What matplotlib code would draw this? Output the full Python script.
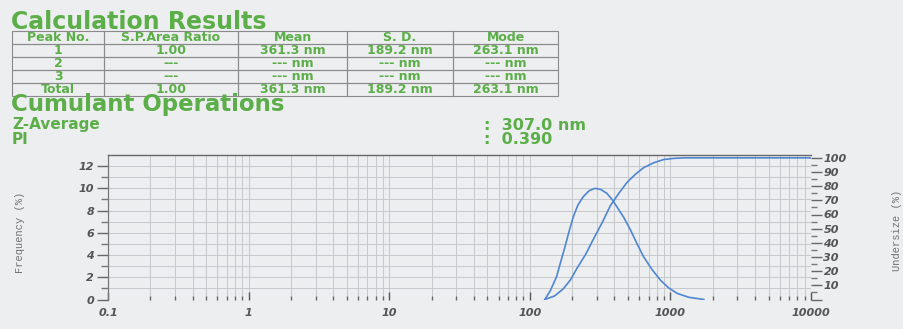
import numpy as np
import matplotlib
matplotlib.use("Agg")
import matplotlib.pyplot as plt
from matplotlib.ticker import FixedLocator, NullFormatter

# datos de la tabla de resultados
col_labels = ["Peak No.", "S.P.Area Ratio", "Mean", "S. D.", "Mode"]
filas = [["1", "1.00", "361.3 nm", "189.2 nm", "263.1 nm"],
         ["2", "---", "--- nm", "--- nm", "--- nm"],
         ["3", "---", "--- nm", "--- nm", "--- nm"],
         ["Total", "1.00", "361.3 nm", "189.2 nm", "263.1 nm"]]

z_average = "307.0 nm"
pi_valor = "0.390"

# curva de frecuencia (tamaño nm, %)
freq_x = [128, 140, 155, 166, 178, 190, 204, 220, 240, 265, 291, 320, 353, 385,
          416, 465, 518, 580, 644, 740, 848, 970, 1117, 1350, 1730]
freq_y = [0, 0.8, 2.05, 3.4, 4.75, 6.1, 7.45, 8.5, 9.25, 9.8, 10.0, 9.9, 9.55, 9.0,
          8.35, 7.4, 6.3, 5.0, 3.85, 2.7, 1.75, 1.05, 0.55, 0.2, 0]

# curva acumulada (undersize %)
cum_x = [128, 150, 173, 195, 215, 250, 283, 330, 373, 430, 490, 565, 644, 760,
         896, 1050, 1245, 10000]
cum_y = [0, 2.5, 7.5, 14, 21.5, 32, 42.5, 55, 66, 75, 82.5, 88.5, 93, 96.5,
         98.8, 99.6, 100, 100]

x_ticks = [0.1, 1, 10, 100, 1000, 10000]
x_labels = ["0.1", "1", "10", "100", "1000", "10000"]

W, H = 904, 329
fondo = "#ECEEF0"
verde = "#5CAE48"
gris = "#555555"
azul = "#4F86D2"


def fx(px):
    return px / W


def fy(py):
    return 1 - py / H


fig = plt.figure(figsize=(W / 100, H / 100), dpi=100, facecolor=fondo)

# titulos
fig.text(fx(11), fy(22), "Calculation Results", color=verde, fontsize=17,
         fontweight="bold", va="center", ha="left")
fig.text(fx(11), fy(105), "Cumulant Operations", color=verde, fontsize=16.5,
         fontweight="bold", va="center", ha="left")
fig.text(fx(12), fy(125), "Z-Average", color=verde, fontsize=11,
         fontweight="bold", va="center", ha="left")
fig.text(fx(12), fy(140), "PI", color=verde, fontsize=11,
         fontweight="bold", va="center", ha="left")
fig.text(fx(484), fy(125), ":  " + z_average, color=verde, fontsize=11.5,
         fontweight="bold", va="center", ha="left")
fig.text(fx(484), fy(140), ":  " + pi_valor, color=verde, fontsize=11.5,
         fontweight="bold", va="center", ha="left")

# tabla
axt = fig.add_axes([fx(12), fy(96), 546 / W, 65 / H])
axt.axis("off")
anchos = np.array([92, 134, 109, 106, 105]) / 546.0
tabla = axt.table(cellText=filas, colLabels=col_labels, colWidths=anchos,
                  cellLoc="center", bbox=[0, 0, 1, 1])
tabla.auto_set_font_size(False)
for (r, c), celda in tabla.get_celld().items():
    celda.set_facecolor("none")
    celda.set_edgecolor("#8A8A8A")
    celda.set_linewidth(0.8)
    celda.get_text().set_color(verde)
    celda.get_text().set_fontsize(9)
    celda.get_text().set_fontweight("bold")

# grafica
ax = fig.add_axes([fx(108), fy(299.5), 703 / W, 144.5 / H])
ax.set_facecolor("none")
ax.set_xscale("log")
ax.set_xlim(0.1, 10000)
ax.set_ylim(0, 13)

menores = [m * 10.0 ** d for d in range(-1, 4) for m in range(2, 10)]
ax.xaxis.set_major_locator(FixedLocator(x_ticks))
ax.xaxis.set_minor_locator(FixedLocator(menores))
ax.set_xticklabels(x_labels)
ax.xaxis.set_minor_formatter(NullFormatter())

ax.yaxis.set_major_locator(FixedLocator(range(0, 13, 2)))
ax.yaxis.set_minor_locator(FixedLocator(range(1, 13, 2)))

for v in x_ticks + menores:
    ax.axvline(v, color="#C6C8CB", lw=0.7, zorder=0)
for v in range(1, 13):
    ax.axhline(v, color="#C6C8CB", lw=0.7, zorder=0)

ax.spines["bottom"].set_visible(False)
ax.spines["right"].set_visible(False)
ax.spines["left"].set_color("#777777")
ax.spines["top"].set_color("#666666")
ax.spines["left"].set_linewidth(0.9)
ax.spines["top"].set_linewidth(1.0)

ax.tick_params(axis="x", which="major", direction="in", length=6, width=1,
               color="#555555", pad=6)
ax.tick_params(axis="x", which="minor", direction="in", length=3, width=1,
               color="#666666")
ax.tick_params(axis="y", which="major", direction="out", length=8, width=1,
               color="#666666", pad=2)
ax.tick_params(axis="y", which="minor", direction="out", length=5, width=1,
               color="#777777")
for t in ax.get_xticklabels() + ax.get_yticklabels():
    t.set_fontstyle("italic")
    t.set_fontweight("bold")
    t.set_fontsize(8)
    t.set_color(gris)

ax.plot(freq_x, freq_y, color=azul, lw=1.2, zorder=3)

ax2 = ax.twinx()
ax2.set_ylim(0, 102)
ax2.set_xlim(0.1, 10000)
for s in ["left", "top", "bottom", "right"]:
    ax2.spines[s].set_visible(False)
ax2.yaxis.set_major_locator(FixedLocator(range(0, 101, 10)))
ax2.yaxis.set_minor_locator(FixedLocator(range(5, 100, 10)))
ax2.set_yticklabels([""] + [str(v) for v in range(10, 101, 10)])
ax2.tick_params(axis="y", which="major", direction="out", length=8, width=1,
                color="#666666", pad=1)
ax2.tick_params(axis="y", which="minor", direction="out", length=4, width=1,
                color="#777777")
for t in ax2.get_yticklabels():
    t.set_fontstyle("italic")
    t.set_fontweight("bold")
    t.set_fontsize(8)
    t.set_color(gris)
ax2.plot(cum_x, cum_y, color=azul, lw=1.2, zorder=3)

fig.text(fx(20), fy(232), "Frequency (%)", rotation=90, family="Liberation Mono",
         fontsize=7.5, color="#707070", ha="center", va="center")
fig.text(fx(897), fy(230), "Undersize (%)", rotation=90, family="Liberation Mono",
         fontsize=7.5, color="#707070", ha="center", va="center")

fig.savefig("out.png", dpi=100, facecolor=fondo)
